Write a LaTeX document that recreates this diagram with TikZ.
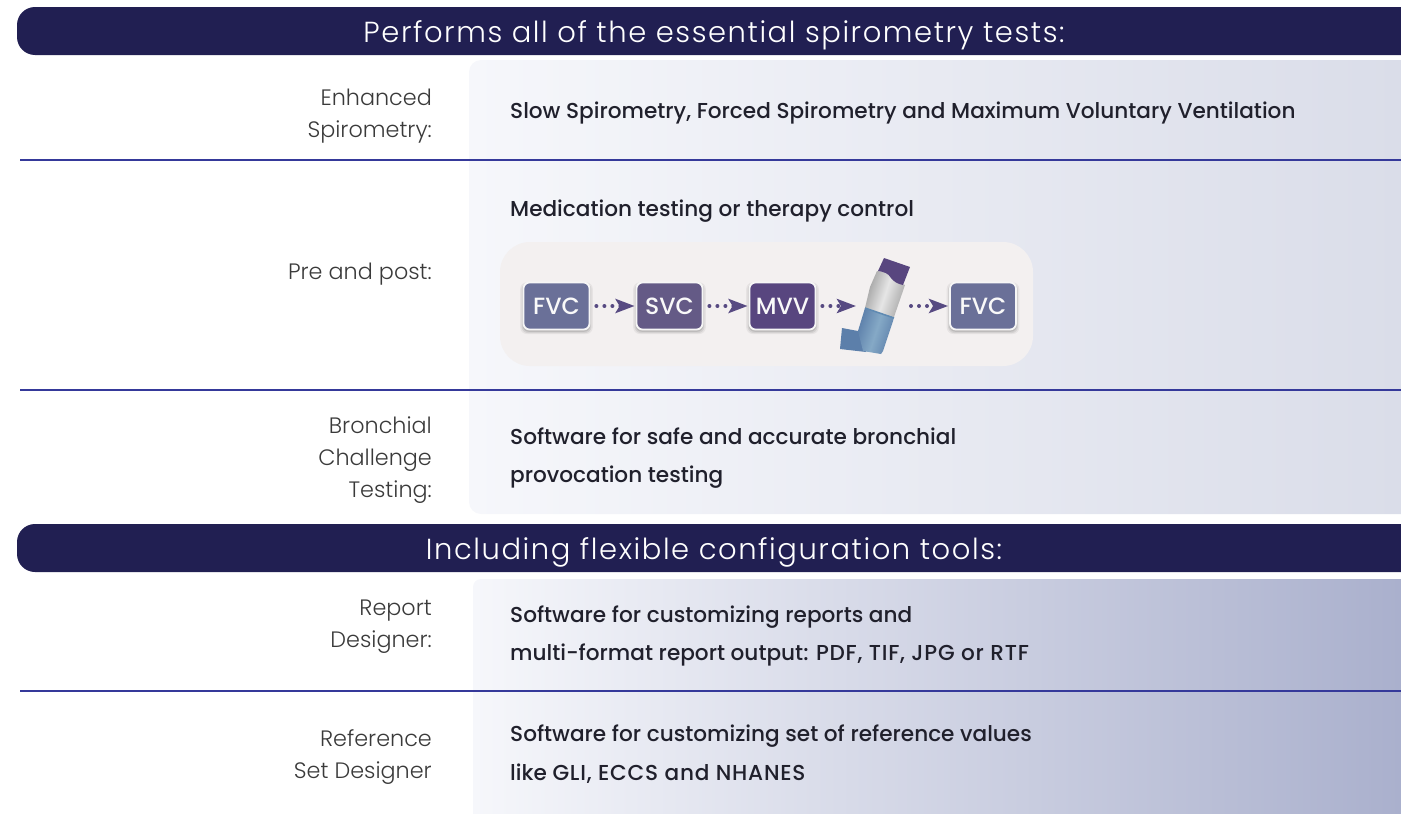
\documentclass[tikz,border=0pt]{standalone}
\usepackage{fontspec}
\setmainfont{Poppins}
\newfontfamily\lightf{Poppins Light}
\newfontfamily\headf[LetterSpace=5.4]{Poppins Light}
\newfontfamily\medf{Poppins Medium}
\newfontfamily\widef[LetterSpace=3.6]{Poppins Medium}
\usetikzlibrary{arrows.meta,shadows}
\definecolor{navy}{HTML}{211F52}
\definecolor{rulec}{HTML}{35399A}
\definecolor{pill}{HTML}{F3F0F0}
\definecolor{labc}{HTML}{3A3A3A}
\definecolor{bodyc}{HTML}{20202C}
\definecolor{arrowc}{HTML}{574A82}
\definecolor{capc}{HTML}{58467F}
\definecolor{blueedge}{HTML}{5F8AB2}
\definecolor{bluelight}{HTML}{85A9C6}
\definecolor{bluedark}{HTML}{5C7FAA}
\definecolor{panelL}{HTML}{F6F7FB}
\definecolor{panelR}{HTML}{DADDE9}
\definecolor{panelS}{HTML}{AAB0CD}
\definecolor{boxa}{HTML}{6A7098}
\definecolor{boxb}{HTML}{645A86}
\definecolor{boxc}{HTML}{58467F}
\tikzset{
 x=1pt,y=-1pt,
 header/.style={draw=none,text=white,font=\headf\fontsize{29}{32}\selectfont,anchor=center,inner sep=0pt},
 labeltext/.style={text=labc,font=\lightf\fontsize{22.3}{32}\selectfont,align=right,anchor=east,inner sep=0pt},
 bodytext/.style={text=bodyc,font=\medf\fontsize{21.6}{38.5}\selectfont,align=left,anchor=west,inner sep=0pt},
 testbox/.style={draw=white!93!gray,line width=1.8pt,rounded corners=6pt,minimum width=66pt,minimum height=47pt,inner sep=0pt,text=white!95!gray,font=\medf\fontsize{23.5}{26}\selectfont,
   general shadow={shadow scale=1.10,shadow yshift=-2pt,fill=black,opacity=0.05},
   general shadow={shadow scale=1.06,shadow yshift=-2pt,fill=black,opacity=0.08},
   general shadow={shadow scale=1.03,shadow yshift=-1.5pt,fill=black,opacity=0.10}},
 flow/.style={draw=arrowc,line width=4pt,line cap=round,dash pattern=on 0pt off 8pt,shorten <=6pt,shorten >=1pt,-{Stealth[inset=4pt,length=19pt,width=14pt,fill=arrowc]}},
 rulel/.style={draw=rulec,line width=2.7pt},
}
\begin{document}
\begin{tikzpicture}
\useasboundingbox (0,0) rectangle (1401,814);
% panels
\shade[left color=panelL,right color=panelR]
  (1401,60) [rounded corners=12pt] -- (469,60) -- (469,514) [sharp corners] -- (1401,514) -- cycle;
\shade[left color=panelL,right color=panelS]
  (1401,579) [rounded corners=8pt] -- (473,579) [sharp corners] -- (473,814) -- (1401,814) -- cycle;
% headers
\fill[navy] (1401,7) [rounded corners=18pt] -- (17,7) -- (17,55) [sharp corners] -- (1401,55) -- cycle;
\fill[navy] (1401,524) [rounded corners=18pt] -- (17,524) -- (17,572) [sharp corners] -- (1401,572) -- cycle;
\node[header] (h1) at (714,35) {Performs all of the essential spirometry tests:};
\node[header] (h2) at (714,552) {Including flexible configuration tools:};
% rules
\coordinate (r1a) at (20,160); \coordinate (r1b) at (1401,160);
\coordinate (r2a) at (20,390); \coordinate (r2b) at (1401,390);
\coordinate (r3a) at (20,691); \coordinate (r3b) at (1401,691);
\draw[rulel] (r1a) -- (r1b);
\draw[rulel] (r2a) -- (r2b);
\draw[rulel] (r3a) -- (r3b);
% labels
\node[labeltext] (l1) at (432,116) {Enhanced\\Spirometry:};
\node[labeltext] (l2) at (432,274) {Pre and post:};
\node[labeltext] (l3) at (432,460) {Bronchial\\Challenge\\Testing:};
\node[labeltext] (l4) at (432,627) {Report\\Designer:};
\node[labeltext] (l5) at (432,757) {Reference\\Set Designer};
% body
\node[bodytext] (b1) at (510,113) {Slow Spirometry, Forced Spirometry and Maximum Voluntary Ventilation};
\node[bodytext] (b2) at (510,211) {Medication testing or therapy control};
\node[bodytext] (b3) at (510,458) {Software for safe and accurate bronchial\\provocation testing};
\node[bodytext] (b4) at (510,636) {Software for customizing reports and\\multi-format report output: {\widef PDF, TIF, JPG or RTF}};
\node[bodytext] (b5) at (510,754) {Software for customizing set of reference values\\like {\widef GLI, ECCS and NHANES}};
% pill
\fill[pill,rounded corners=30pt] (500,242) rectangle (1033,366);
% boxes
\node[testbox,fill=boxa] (fvc1) at (556.5,306) {FVC};
\node[testbox,fill=boxb] (svc) at (669.5,306) {SVC};
\node[testbox,fill=boxc] (mvv) at (782.5,306) {MVV};
\node[testbox,fill=boxa] (fvc2) at (983,306) {FVC};
% inhaler
\coordinate (inhin) at (857,306);
\coordinate (inhout) at (905,306);
\fill[bluedark] (842,328) -- (858,331) -- (868,334) -- (866,352) -- (840,349) -- cycle;
\shade[left color=bluedark,right color=bluedark,middle color=bluelight,shading angle=72]
  (865,308) -- (894,317) -- (893,321) -- (883,351) -- (881,354) -- (863,351) -- (858,331) -- cycle;
\shade[left color=black!38,right color=black!35,middle color=black!10,shading angle=72]
  (877,271) .. controls (884,272) and (888,272) .. (891,278) .. controls (894,282) and (900,283) .. (905,285) -- (894,317) -- (865,308) -- (870,287) -- cycle;
\fill[capc] (884,258) -- (910,267) -- (903,285) .. controls (898,284) and (894,282) .. (891,278) .. controls (888,273) and (884,272) .. (878,271) -- cycle;
\draw[blueedge,line width=1.5pt] (865,308) -- (894,318);
% connectors
\draw[flow] (fvc1) -- (svc);
\draw[flow] (svc) -- (mvv);
\draw[flow] (mvv) -- (inhin);
\draw[flow] (inhout) -- (fvc2);
\end{tikzpicture}
\end{document}
